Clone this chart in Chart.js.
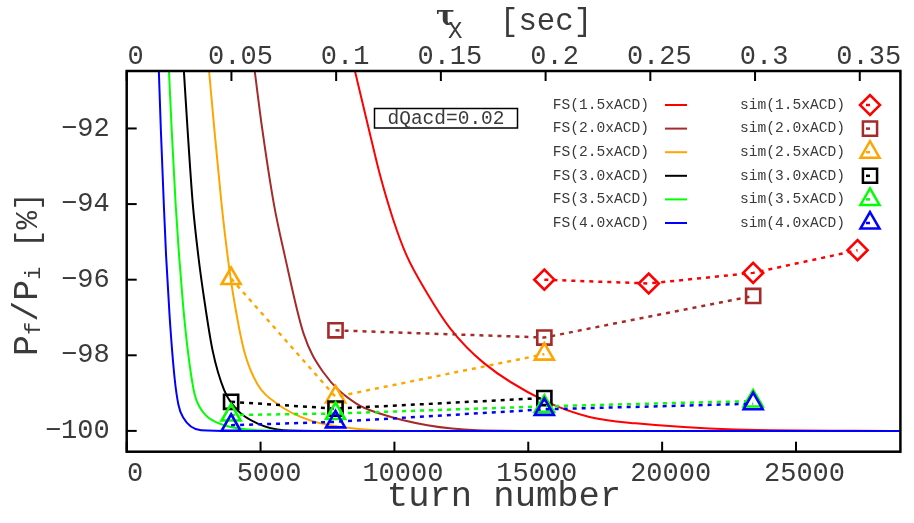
<!DOCTYPE html>
<html>
<head>
<meta charset="utf-8">
<script src="https://cdn.jsdelivr.net/npm/chart.js@4"></script>
<style>
  html, body { margin: 0; padding: 0; background: #fff; }
  #wrap { width: 914px; height: 523px; }
</style>
</head>
<body>
<div id="wrap"><canvas id="chart" width="914" height="523"></canvas></div>
<script>
// ── Axes ──────────────────────────────────────────────────────────────────
const xTicks        = [0, 5000, 10000, 15000, 20000, 25000];
const tauTicks      = [0, 0.05, 0.1, 0.15, 0.2, 0.25, 0.3, 0.35];
const tauTickLabels = ['0', '0.05', '0.1', '0.15', '0.2', '0.25', '0.3', '0.35'];
const yTicks        = [-100, -98, -96, -94, -92];
const xRange   = [0, 28900];
const tauRange = [0, 0.3694];
const yRange   = [-100.55, -90.48];

// ── Series ────────────────────────────────────────────────────────────────
const cases  = ['1.5xACD', '2.0xACD', '2.5xACD', '3.0xACD', '3.5xACD', '4.0xACD'];
const colors = ['#ff0000', '#a52a2a', '#ffa500', '#000000', '#00ff00', '#0000ff'];
const simStyles = ['rectRot', 'rect', 'triangle', 'rect', 'triangle', 'triangle'];

// FS curves
const fs15X = [8519, 9038, 9450, 9950, 10450, 11234, 12097, 13334, 15600, 17283, 19013, 22717, 28900];
const fs15Y = [-90.46, -92.0, -93.2, -94.4, -95.35, -96.37, -97.3, -98.2, -99.2, -99.63, -99.8, -99.96, -100];
const fs20X = [4778, 5060, 5493, 5900, 6604, 7345, 8579, 9450, 11234, 13086, 16000, 28900];
const fs20Y = [-90.46, -92.0, -93.98, -95.35, -97.42, -98.45, -99.28, -99.54, -99.85, -99.98, -100, -100];
const fs25X = [3074, 3271, 3541, 3789, 4011, 4382, 4875, 5616, 6852, 8579, 11000, 28900];
const fs25Y = [-90.46, -92.0, -93.98, -95.48, -96.54, -97.87, -98.75, -99.28, -99.72, -99.94, -100, -100];
const fs30X = [2134, 2271, 2467, 2680, 2900, 3208, 3641, 4134, 4875, 5863, 8000, 28900];
const fs30Y = [-90.46, -92.0, -93.98, -95.4, -96.54, -97.87, -98.92, -99.45, -99.8, -99.98, -100, -100];
const fs35X = [1578, 1678, 1826, 1945, 2097, 2282, 2530, 2750, 3022, 3641, 4875, 6500, 28900];
const fs35Y = [-90.46, -92.0, -93.98, -95.25, -96.6, -97.87, -99.01, -99.4, -99.63, -99.85, -99.98, -100, -100];
const fs40X = [1200, 1274, 1385, 1470, 1604, 1789, 1930, 2097, 2778, 4000, 28900];
const fs40Y = [-90.46, -92.0, -93.98, -95.35, -96.98, -98.6, -99.3, -99.63, -99.98, -100, -100];

// simulation points
const sim15X = [15600, 19500, 23400, 27300];
const sim15Y = [-96.0, -96.1, -95.82, -95.22];
const sim20X = [7800, 15600, 23400];
const sim20Y = [-97.34, -97.53, -96.43];
const sim25X = [3900, 7800, 15600];
const sim25Y = [-95.97, -99.1, -97.97];
const sim30X = [3900, 7800, 15600];
const sim30Y = [-99.23, -99.41, -99.13];
const sim35X = [3900, 7800, 15600, 23400];
const sim35Y = [-99.58, -99.54, -99.35, -99.21];
const sim40X = [3900, 7800, 15600, 23400];
const sim40Y = [-99.85, -99.76, -99.43, -99.28];

const fsX  = [fs15X, fs20X, fs25X, fs30X, fs35X, fs40X];
const fsY  = [fs15Y, fs20Y, fs25Y, fs30Y, fs35Y, fs40Y];
const simX = [sim15X, sim20X, sim25X, sim30X, sim35X, sim40X];
const simY = [sim15Y, sim20Y, sim25Y, sim30Y, sim35Y, sim40Y];

const MONO = '"Liberation Mono", "Courier New", monospace';
const TXT  = '#3a3a3a';
const pts = (xs, ys) => xs.map((x, i) => ({ x, y: ys[i] }));

const datasets = [];
cases.forEach((c, i) => datasets.push({
  label: `FS(${c})`, data: pts(fsX[i], fsY[i]),
  borderColor: colors[i], borderWidth: 2, pointRadius: 0,
  cubicInterpolationMode: 'monotone', fill: false, order: 20 - i
}));
cases.forEach((c, i) => datasets.push({
  label: `sim(${c})`, data: pts(simX[i], simY[i]),
  borderColor: colors[i], borderWidth: 2.5, borderDash: [4, 5], tension: 0,
  pointStyle: simStyles[i], pointRadius: simStyles[i] === 'triangle' ? 11 : 10,
  pointBorderColor: colors[i], pointBackgroundColor: 'rgba(0,0,0,0)',
  pointBorderWidth: 2.6, fill: false, order: 10 - i
}));

// ── Plugins: frame + inward ticks, key, titles ───────────────────────────
const framePlugin = {
  id: 'frame',
  afterDatasetsDraw(chart) {
    const { ctx, chartArea: a, scales } = chart;
    const seg = (x1, y1, x2, y2) => { ctx.beginPath(); ctx.moveTo(x1, y1); ctx.lineTo(x2, y2); ctx.stroke(); };
    ctx.save();
    ctx.strokeStyle = '#000'; ctx.lineWidth = 2;
    xTicks.forEach(v => { const p = scales.x.getPixelForValue(v); seg(p, a.bottom, p, a.bottom - 10); });
    tauTicks.forEach(v => { const p = scales.x2.getPixelForValue(v); seg(p, a.top, p, a.top + 10); });
    yTicks.forEach(v => { const p = scales.y.getPixelForValue(v); seg(a.left, p, a.left + 10, p); });
    ctx.lineWidth = 2.5;
    ctx.strokeRect(a.left, a.top, a.right - a.left, a.bottom - a.top);
    ctx.restore();
  }
};

const keyPlugin = {
  id: 'key',
  afterDraw(chart) {
    const ctx = chart.ctx;
    const ds = chart.data.datasets;
    ctx.save();
    ctx.font = `14.6px ${MONO}`;
    ctx.textAlign = 'right'; ctx.textBaseline = 'middle';
    for (let i = 0; i < cases.length; i++) {
      const y = 105 + i * 23.6;
      const fs = ds[i], sim = ds[i + cases.length];
      ctx.fillStyle = TXT;
      ctx.fillText(fs.label, 649, y);
      ctx.fillText(sim.label, 845, y);
      ctx.strokeStyle = fs.borderColor; ctx.lineWidth = 2; ctx.setLineDash([]);
      ctx.beginPath(); ctx.moveTo(665, y); ctx.lineTo(687, y); ctx.stroke();
      ctx.strokeStyle = sim.borderColor; ctx.lineWidth = 2.5; ctx.setLineDash([4, 5]);
      ctx.beginPath(); ctx.moveTo(866, y); ctx.lineTo(874, y); ctx.stroke();
      ctx.setLineDash([]);
      ctx.fillStyle = 'rgba(0,0,0,0)';
      Chart.helpers.drawPoint(ctx, { pointStyle: sim.pointStyle, radius: sim.pointRadius,
        rotation: 0, borderWidth: 2.6 }, 870, y);
    }
    // annotation box
    ctx.strokeStyle = '#000'; ctx.lineWidth = 1.5;
    ctx.strokeRect(374.5, 108.5, 143, 19.5);
    ctx.fillStyle = TXT; ctx.textAlign = 'center';
    ctx.font = `19.5px ${MONO}`;
    ctx.fillText('dQacd=0.02', 446, 118.5);
    ctx.restore();
  }
};

const titlePlugin = {
  id: 'titles',
  afterDraw(chart) {
    const ctx = chart.ctx;
    ctx.save();
    ctx.fillStyle = TXT;
    ctx.textBaseline = 'alphabetic';
    // bottom
    ctx.textAlign = 'center';
    ctx.font = `35.5px ${MONO}`;
    ctx.fillText('turn number', 504, 506);
    // top
    ctx.textAlign = 'left';
    ctx.font = 'bold 28px "DejaVu Serif", serif';
    ctx.fillText('τ', 436, 25);
    ctx.font = `24px ${MONO}`;
    ctx.fillText('X', 448, 38);
    ctx.font = `30.7px ${MONO}`;
    ctx.fillText('[sec]', 500, 30);
    // left (rotated)
    ctx.translate(37, 356);
    ctx.rotate(-Math.PI / 2);
    let x = 0;
    const put = (s, font, dy) => { ctx.font = font; ctx.fillText(s, x, dy); x += ctx.measureText(s).width; };
    put('P', `35px ${MONO}`, 0);
    put('f', `22px ${MONO}`, 3);
    put('/', `35px ${MONO}`, 0);
    put('P', `35px ${MONO}`, 0);
    put('i', `22px ${MONO}`, 3);
    put(' [%]', `31px ${MONO}`, 0);
    ctx.restore();
  }
};

const tickFont = { family: MONO, size: 27 };

new Chart(document.getElementById('chart'), {
  type: 'line',
  data: { datasets },
  plugins: [framePlugin, keyPlugin, titlePlugin],
  options: {
    responsive: false, animation: false, devicePixelRatio: 1,
    layout: { padding: { left: 0, right: 7.3, top: 0, bottom: 0 } },
    plugins: { legend: { display: false }, tooltip: { enabled: false } },
    scales: {
      x: {
        type: 'linear', position: 'bottom', min: xRange[0], max: xRange[1],
        afterBuildTicks: s => { s.ticks = xTicks.map(v => ({ value: v })); },
        afterFit: s => { s.height = 71.3; },
        ticks: { font: tickFont, color: TXT, padding: -2, labelOffset: 8.5,
                 maxRotation: 0, autoSkip: false, callback: v => String(v) },
        grid: { display: false }, border: { display: false }
      },
      x2: {
        type: 'linear', position: 'top', display: true, min: tauRange[0], max: tauRange[1],
        afterBuildTicks: s => { s.ticks = tauTicks.map(v => ({ value: v })); },
        afterFit: s => { s.height = 71; },
        ticks: { font: tickFont, color: TXT, padding: -10, labelOffset: 9,
                 maxRotation: 0, autoSkip: false, callback: (v, i) => tauTickLabels[i] },
        grid: { display: false }, border: { display: false }
      },
      y: {
        type: 'linear', position: 'left', min: yRange[0], max: yRange[1],
        afterBuildTicks: s => { s.ticks = yTicks.map(v => ({ value: v })); },
        afterFit: s => { s.width = 126.7; },
        ticks: { font: tickFont, color: TXT, padding: 9, autoSkip: false,
                 callback: v => (v < 0 ? '\u2212' : '') + Math.abs(v) },
        grid: { display: false }, border: { display: false }
      }
    }
  }
});
</script>
</body>
</html>
